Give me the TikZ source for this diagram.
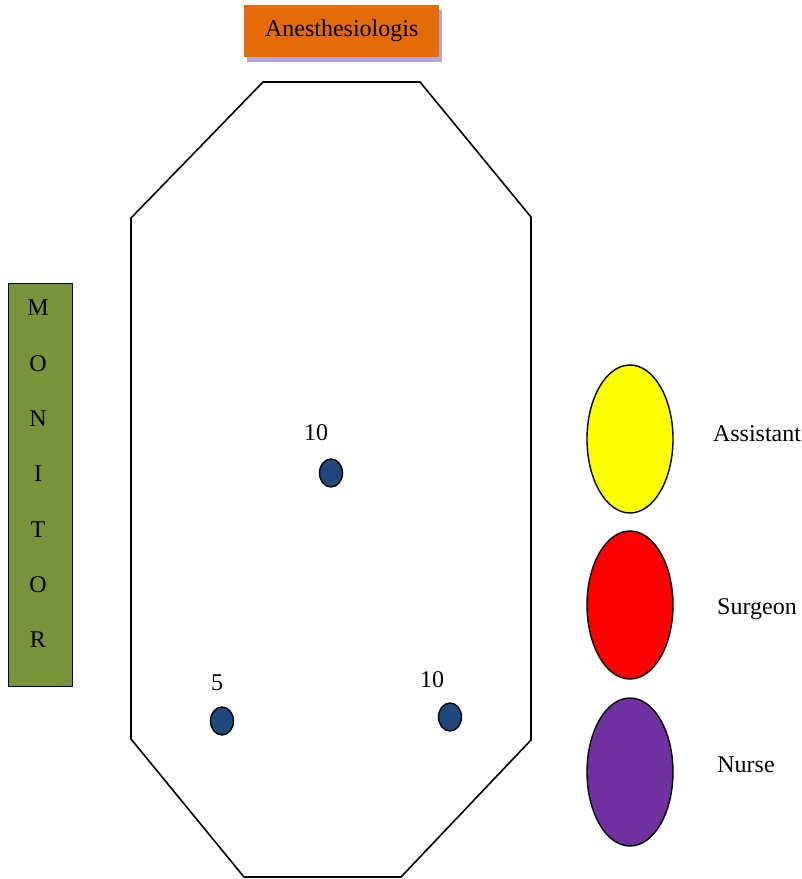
\documentclass[tikz,border=0pt]{standalone}
\usepackage{fontspec}
\setmainfont{Liberation Serif}
\usetikzlibrary{shapes.geometric}
\definecolor{anesorange}{HTML}{E36C09}
\definecolor{shadowlav}{HTML}{B4A7D6}
\definecolor{monolive}{HTML}{77933C}
\definecolor{markblue}{HTML}{1F497D}
\definecolor{nursepurple}{HTML}{7030A0}
\definecolor{assistyellow}{HTML}{FFFF00}
\tikzset{
  x=1pt, y=-1pt,
  lbl/.style={font=\fontsize{24}{28}\selectfont, inner sep=0pt},
  role/.style={ellipse, draw=black, line width=1.4pt, minimum width=86pt, minimum height=148pt, inner sep=0pt},
  port/.style={ellipse, draw=black, fill=markblue, line width=1.4pt, minimum width=23pt, minimum height=28pt, inner sep=0pt},
  table/.style={draw=black, line width=1.6pt, line join=miter},
}
\begin{document}
\begin{tikzpicture}
\useasboundingbox (0,0) rectangle (802,879);

% anesthesiologist box with drop shadow
\fill[shadowlav] (247,10) rectangle (442,62);
\node[fill=anesorange, minimum width=195pt, minimum height=52pt, inner sep=0pt, anchor=north west] (anes) at (244,5) {};
\node[lbl] (aneslbl) at (anes.center) {Anesthesiologis};

% monitor
\node[draw=black, fill=monolive, line width=1.4pt, minimum width=64pt, minimum height=403pt, inner sep=0pt, anchor=north west] (monitor) at (8,283) {};
\foreach \ch [count=\i from 0] in {M,O,N,I,T,O,R}
  \node[lbl] (mon\i) at (38,{308+55.3*\i}) {\ch};

% operating table outline
\coordinate (t1) at (263,82);
\coordinate (t2) at (420,82);
\coordinate (t3) at (531,217);
\coordinate (t4) at (531,740);
\coordinate (t5) at (401,877);
\coordinate (t6) at (244,877);
\coordinate (t7) at (131,739);
\coordinate (t8) at (131,218);
\draw[table] (t1) -- (t2) -- (t3) -- (t4) -- (t5) -- (t6) -- (t7) -- (t8) -- cycle;

% port markers with sizes
\node[port] (p1) at (331,473) {};
\node[lbl] (p1lbl) at (316,433) {10};
\node[port] (p2) at (222,721) {};
\node[lbl] (p2lbl) at (217,683) {5};
\node[port] (p3) at (450,717) {};
\node[lbl] (p3lbl) at (432,680) {10};

% staff positions
\node[role, fill=assistyellow] (assistant) at (630,439) {};
\node[lbl] (assistantlbl) at (757,434) {Assistant};
\node[role, fill=red] (surgeon) at (630,605) {};
\node[lbl] (surgeonlbl) at (757,609) {Surgeon};
\node[role, fill=nursepurple] (nurse) at (630,772) {};
\node[lbl] (nurselbl) at (746,765) {Nurse};
\end{tikzpicture}
\end{document}
